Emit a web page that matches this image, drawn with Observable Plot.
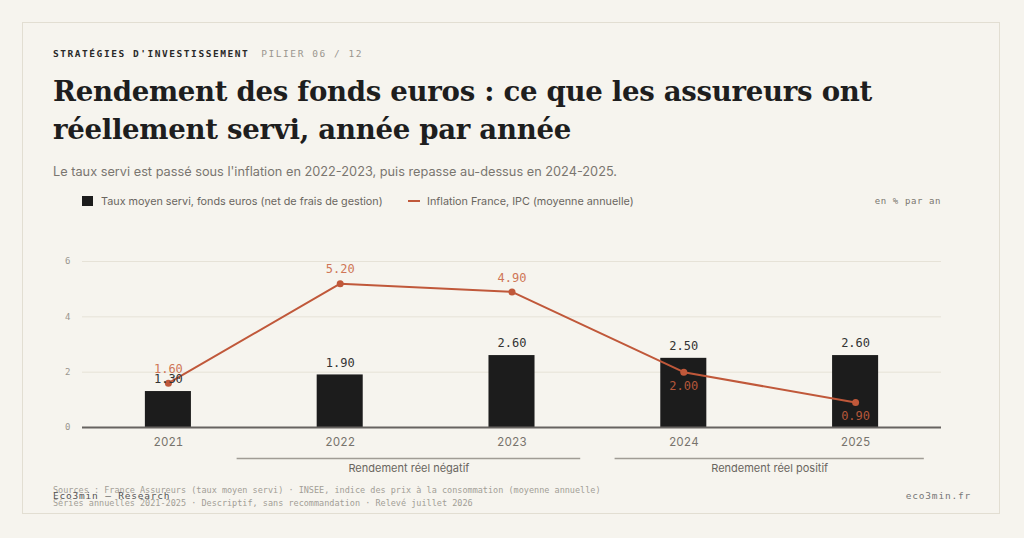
<!DOCTYPE html>
<html>
<head>
<meta charset="utf-8">
<script src="https://cdn.jsdelivr.net/npm/d3@7"></script>
<script src="https://cdn.jsdelivr.net/npm/@observablehq/plot@0.6"></script>
<style>
  html, body { margin:0; padding:0; background:#f6f4ee; width:1024px; height:538px; overflow:hidden; }
  .card { position:absolute; left:22px; top:22px; width:978px; height:492px; border:1px solid #e2ded2; box-sizing:border-box; }
  .abs { position:absolute; white-space:nowrap; }
  .mono { font-family:"DejaVu Sans Mono", monospace; }
  .eyebrow { left:53px; top:48px; font-size:9.5px; letter-spacing:1.55px; font-weight:bold; color:#2a2a2a; }
  .eyebrow span { color:#9a968e; font-weight:normal; margin-left:12px; }
  .title { left:53px; top:73px; font-family:"DejaVu Serif", serif; font-weight:700; font-size:27.6px; line-height:38px; color:#1e1e1e; letter-spacing:-0.3px; }
  .subtitle { left:53px; top:164px; font-family:Inter, sans-serif; font-size:12.75px; color:#7a7670; }
  .legend { top:195px; font-family:Inter, sans-serif; font-size:10.8px; color:#6a665f; }
  .unit { right:83px; top:196px; font-size:9px; letter-spacing:0.6px; color:#7a766f; }
  .foot { left:53px; font-size:8.5px; color:#a29e96; }
  #chart { position:absolute; left:0; top:220px; }
</style>
</head>
<body>
<div class="card"></div>
<div class="abs mono eyebrow">STRATÉGIES D'INVESTISSEMENT<span>PILIER 06 / 12</span></div>
<div class="abs title">Rendement des fonds euros : ce que les assureurs ont<br>réellement servi, année par année</div>
<div class="abs subtitle">Le taux servi est passé sous l'inflation en 2022-2023, puis repasse au-dessus en 2024-2025.</div>
<div class="abs legend" style="left:82px;"><span style="display:inline-block;width:11px;height:10px;background:#1c1c1c;vertical-align:-1px;margin-right:8px;"></span>Taux moyen servi, fonds euros (net de frais de gestion)</div>
<div class="abs legend" style="left:408px;"><span style="display:inline-block;width:12px;height:2px;background:#c0583a;vertical-align:3px;margin-right:7px;"></span>Inflation France, IPC (moyenne annuelle)</div>
<div class="abs mono unit">en % par an</div>
<div id="chart"></div>
<div class="abs mono foot" style="top:485px;">Sources : France Assureurs (taux moyen servi) · INSEE, indice des prix à la consommation (moyenne annuelle)</div>
<div class="abs mono foot" style="top:498px;">Séries annuelles 2021-2025 · Descriptif, sans recommandation · Relevé juillet 2026</div>
<div class="abs mono" style="left:53px;top:490px;font-size:9.5px;letter-spacing:0.8px;color:#555;">Eco3min — Research</div>
<div class="abs mono" style="right:53px;top:490px;font-size:9.5px;letter-spacing:0.8px;color:#777;">eco3min.fr</div>
<script>
const years = [2021, 2022, 2023, 2024, 2025];
const tauxServi = [1.3, 1.9, 2.6, 2.5, 2.6];
const inflation = [1.6, 5.2, 4.9, 2.0, 0.9];
const yTicks = [0, 2, 4, 6];
const bracketLabels = ["Rendement réel négatif", "Rendement réel positif"];
const bracketFrom = [2021.4, 2023.6];
const bracketTo = [2023.4, 2025.4];

const rows = years.map((y, i) => ({year: y, taux: tauxServi[i], infl: inflation[i]}));
const brackets = bracketLabels.map((l, i) => ({label: l, x1: bracketFrom[i], x2: bracketTo[i], mid: (bracketFrom[i] + bracketTo[i]) / 2}));
const halfBar = 0.134;
const mono = "DejaVu Sans Mono, monospace";
const sans = "Inter, sans-serif";

const chart = Plot.plot({
  width: 1024,
  height: 260,
  marginLeft: 82,
  marginRight: 83,
  marginTop: 41,
  marginBottom: 53,
  style: {background: "transparent", fontFamily: sans, overflow: "visible"},
  x: {domain: [2020.5, 2025.5]},
  y: {domain: [0, 6]},
  marks: [
    Plot.ruleY(yTicks.filter(d => d > 0), {stroke: "#e6e2d7", strokeWidth: 1}),
    Plot.axisY({ticks: yTicks, tickFormat: d => String(d), tickSize: 0, tickPadding: 12, label: null, fontFamily: mono, fontSize: 9, fill: "#9a968e"}),
    Plot.axisX({ticks: years, tickFormat: d => String(d), tickSize: 0, tickPadding: 10, label: null, fontSize: 11.5, fill: "#77736c"}),
    Plot.rectY(rows, {x1: d => d.year - halfBar, x2: d => d.year + halfBar, y: "taux", fill: "#1c1c1c"}),
    Plot.ruleY([0], {stroke: "#666360", strokeWidth: 2}),
    Plot.line(rows, {x: "year", y: "infl", stroke: "#c0583a", strokeWidth: 2}),
    Plot.dot(rows, {x: "year", y: "infl", r: 3.5, fill: "#c0583a"}),
    Plot.text(rows, {x: "year", y: "taux", text: d => d.taux.toFixed(2), dy: -12, fontFamily: mono, fontSize: 12, fill: "#333"}),
    Plot.text(rows.filter(d => d.infl >= d.taux), {x: "year", y: "infl", text: d => d.infl.toFixed(2), dy: -14, fontFamily: mono, fontSize: 12, fill: "#cf7657"}),
    Plot.text(rows.filter(d => d.infl < d.taux), {x: "year", y: "infl", text: d => d.infl.toFixed(2), dy: 14, fontFamily: mono, fontSize: 12, fill: "#b5573a"}),
    Plot.ruleY(brackets, {x1: "x1", x2: "x2", y: 0, dy: 31, stroke: "#a09c95", strokeWidth: 1.5}),
    Plot.text(brackets, {x: "mid", y: 0, text: "label", dy: 41, fontSize: 11, fill: "#6a665f"})
  ]
});
document.getElementById("chart").appendChild(chart);
</script>
</body>
</html>
